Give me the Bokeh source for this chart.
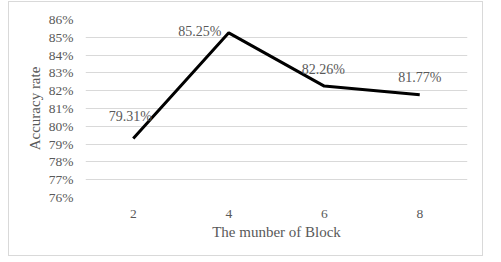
from bokeh.plotting import figure
from bokeh.models import ColumnDataSource, LabelSet, Range1d, NumeralTickFormatter
from bokeh.embed import file_html
from bokeh.resources import INLINE

blocks = ["2", "4", "6", "8"]
accuracy = [0.7931, 0.8525, 0.8226, 0.8177]
labels = ["79.31%", "85.25%", "82.26%", "81.77%"]
label_dx = [-3, -29, -1, 0]
label_dy = [22, 1, 17, 17]
y_ticks = [0.76, 0.77, 0.78, 0.79, 0.80, 0.81, 0.82, 0.83, 0.84, 0.85, 0.86]

FONT = "Liberation Serif"
TXT = "#595959"

src = ColumnDataSource(dict(x=blocks, y=accuracy, t=labels, dx=label_dx, dy=label_dy))

p = figure(x_range=blocks, y_range=Range1d(0.76, 0.86), width=475, height=255,
           output_backend="svg", toolbar_location=None,
           min_border_left=76, min_border_right=17, min_border_top=17, min_border_bottom=60)
p.margin = (1, 0, 0, 8)
p.styles = {"border": "1px solid #d9d9d9", "box-sizing": "border-box"}
p.x_range.range_padding = 0
p.outline_line_color = None
p.background_fill_color = "white"
p.border_fill_color = "white"

p.line("x", "y", source=src, line_color="black", line_width=3)

ls = LabelSet(x="x", y="y", text="t", source=src, x_offset="dx", y_offset="dy",
              text_align="center", text_baseline="middle", text_font=FONT,
              text_font_size="14px", text_color=TXT)
p.add_layout(ls)

p.yaxis.ticker = y_ticks
p.yaxis.formatter = NumeralTickFormatter(format="0%")
p.ygrid.ticker = y_ticks
p.ygrid.grid_line_color = "#d9d9d9"
p.ygrid.grid_line_width = 1
p.xgrid.grid_line_color = None

for ax in (p.xaxis, p.yaxis):
    ax.axis_line_color = None
    ax.major_tick_line_color = None
    ax.minor_tick_line_color = None
    ax.major_label_text_font = FONT
    ax.major_label_text_font_size = "13.5px"
    ax.major_label_text_color = TXT
    ax.axis_label_text_font = FONT
    ax.axis_label_text_font_size = "15px"
    ax.axis_label_text_color = TXT
    ax.axis_label_text_font_style = "normal"

p.xaxis.axis_label = "The munber of Block"
p.yaxis.axis_label = "Accuracy rate"
p.xaxis.major_label_standoff = 6
p.xaxis.axis_label_standoff = 3
p.yaxis.major_label_standoff = 6
p.yaxis.axis_label_standoff = 3

open("out.html", "w").write(file_html(p, INLINE))
